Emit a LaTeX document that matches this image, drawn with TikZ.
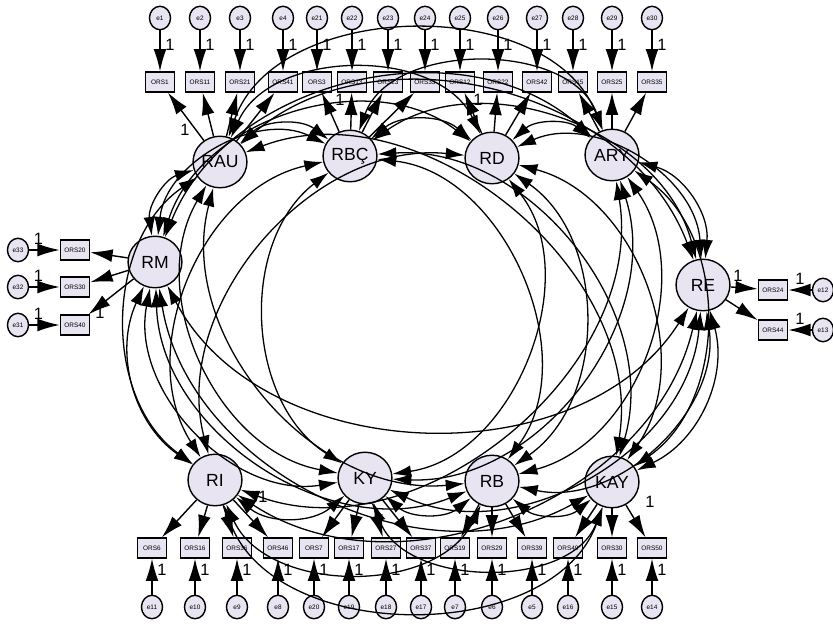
\documentclass[tikz,border=0pt]{standalone}
\usepackage{fontspec}
\setmainfont{Liberation Sans}
\usetikzlibrary{arrows.meta,shapes.geometric}
\definecolor{fillc}{RGB}{232,228,242}
\begin{document}
\begin{tikzpicture}[x=0.03cm,y=-0.03cm,
 lat/.style={ellipse,draw,line width=1.2pt,fill=fillc,minimum width=46pt,minimum height=44pt,inner sep=0pt,font=\fontsize{15}{15}\selectfont},
 obs/.style={rectangle,draw,line width=1.2pt,fill=fillc,minimum width=25pt,minimum height=17pt,inner sep=0pt,font=\fontsize{5.5}{5.5}\selectfont},
 err/.style={ellipse,draw,line width=1.2pt,fill=fillc,minimum width=18pt,minimum height=20pt,inner sep=0pt,font=\fontsize{5.5}{5.5}\selectfont},
 arr/.style={line width=1.2pt,-{Latex[length=19pt,width=11pt]}},
 cov/.style={line width=1.1pt,{Latex[length=16pt,width=10pt]}-{Latex[length=16pt,width=10pt]}},
 one/.style={font=\fontsize{14}{14}\selectfont,inner sep=1pt}]
\useasboundingbox (0,0) rectangle (833,639);
\clip (0,0) rectangle (833,639);
% latent factors
\node[lat] (RAU) at (220,162) {RAU};
\node[lat] (RBC) at (350,156) {RBÇ};
\node[lat] (RD) at (492,158) {RD};
\node[lat] (ARY) at (612,155) {ARY};
\node[lat] (RE) at (703,285) {RE};
\node[lat] (KAY) at (612,482) {KAY};
\node[lat] (RB) at (492,481) {RB};
\node[lat] (KY) at (365,478) {KY};
\node[lat] (RI) at (215,480) {RI};
\node[lat] (RM) at (155,262) {RM};
% top indicators
\foreach \x/\lab/\e/\f [count=\i] in {160/ORS1/e1/RAU,200/ORS11/e2/RAU,240/ORS21/e3/RAU,283/ORS41/e4/RAU,317/ORS3/e21/RBC,352/ORS13/e22/RBC,388/ORS23/e23/RBC,425/ORS33/e24/RBC,460/ORS12/e25/RD,498/ORS22/e26/RD,537/ORS42/e27/RD,573/ORS15/e28/ARY,612/ORS25/e29/ARY,652/ORS35/e30/ARY}{
 \node[obs] (t\i) at (\x,82) {\lab};
 \node[err] (te\i) at (\x,18) {\e};
 \draw[arr] (te\i) -- (t\i) node[one,pos=0.35,right,xshift=3pt]{1};
 \draw[arr] (\f) -- (t\i);
}
% bottom indicators
\foreach \x/\lab/\e/\f [count=\i] in {152/ORS6/e11/RI,195/ORS16/e10/RI,237/ORS36/e9/RI,278/ORS46/e8/RI,314/ORS7/e20/KY,349/ORS17/e19/KY,386/ORS27/e18/KY,421/ORS37/e17/KY,455/ORS19/e7/RB,492/ORS29/e6/RB,532/ORS39/e5/RB,568/ORS49/e16/KAY,612/ORS30/e15/KAY,652/ORS50/e14/KAY}{
 \node[obs] (b\i) at (\x,548) {\lab};
 \node[err] (be\i) at (\x,607) {\e};
 \draw[arr] (be\i) -- (b\i) node[one,pos=0.7,right,xshift=3pt]{1};
 \draw[arr] (\f) -- (b\i);
}
% left indicators
\foreach \y/\lab/\e [count=\i] in {250/ORS20/e33,287/ORS30/e32,325/ORS40/e31}{
 \node[obs] (l\i) at (75,\y) {\lab};
 \node[err] (le\i) at (18,\y) {\e};
 \draw[arr] (le\i) -- (l\i) node[one,pos=0.3,above,yshift=3pt]{1};
 \draw[arr] (RM) -- (l\i);
}
% right indicators
\foreach \y/\lab/\e [count=\i] in {290/ORS24/e12,330/ORS44/e13}{
 \node[obs] (r\i) at (773,\y) {\lab};
 \node[err] (re\i) at (823,\y) {\e};
 \draw[arr] (re\i) -- (r\i) node[one,pos=0.5,above,yshift=3pt]{1};
 \draw[arr] (RE) -- (r\i);
}
% fixed loading labels
\node[one] at (185,130) {1};
\node[one] at (340,100) {1};
\node[one] at (478,100) {1};
\node[one] at (100,313) {1};
\node[one] at (738,276) {1};
\node[one] at (263,497) {1};
\node[one] at (650,502) {1};
% covariances
\foreach \a/\b/\ang in {RAU/RBC/40,RBC/RD/40,RD/ARY/40,ARY/RE/40,RE/KAY/40,KAY/RB/40,RB/KY/40,KY/RI/40,RI/RM/40,RM/RAU/40,
 RAU/RD/65,RBC/ARY/70,RD/RE/55,ARY/KAY/55,RE/RB/55,KAY/KY/70,RB/RI/65,KY/RM/55,RI/RAU/55,RM/RBC/55,
 RAU/ARY/70,RBC/RE/55,RD/KAY/55,ARY/RB/55,RE/KY/55,KAY/RI/70,RB/RM/55,KY/RAU/55,RI/RBC/55,RM/RD/55,
 RAU/RE/55,RBC/KAY/55,RD/RB/55,ARY/KY/55,RE/RI/55,KAY/RM/55,RB/RAU/55,KY/RBC/55,RI/RD/55,RM/ARY/55,
 RAU/KAY/60,RBC/RB/60,RD/KY/60,ARY/RI/60,RE/RM/60}{
 \draw[cov] (\a) to[bend left=\ang] (\b);
}
\end{tikzpicture}
\end{document}
